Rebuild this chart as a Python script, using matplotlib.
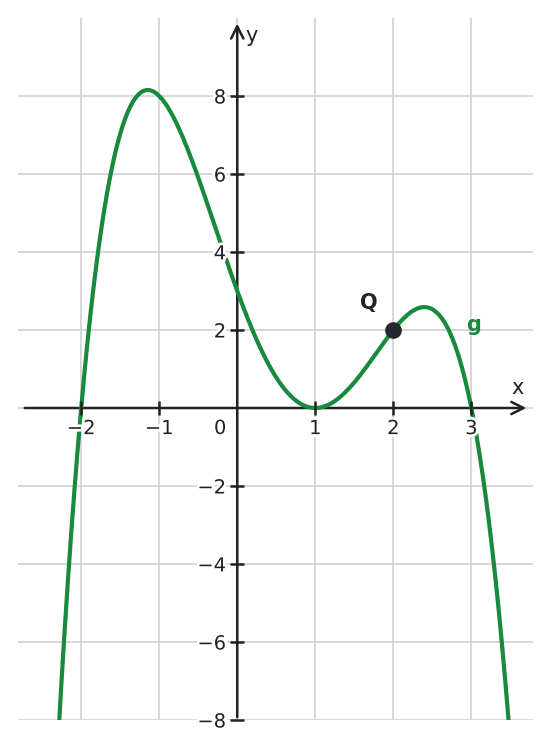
import numpy as np
import matplotlib.pyplot as plt
import matplotlib.patheffects as pe

# curve g: zeros at -2, 1 (double), 3 ; g(0)=3
roots = [-2, 1, 1, 3]
lead = -0.5
Q = (2, 2)
xticks = [-2, -1, 1, 2, 3]
yticks = [-8, -6, -4, -2, 2, 4, 6, 8]

green = '#178a3c'
dark = '#222222'
halo = [pe.withStroke(linewidth=4, foreground='white')]

fig = plt.figure(figsize=(5.51, 7.49), dpi=100)
ax = fig.add_axes([18/551, 29/749, 515/551, 702/749])
ax.set_xlim(-2.81, 3.79)
ax.set_ylim(-8, 10)

# grid
for gx in [-2, -1, 0, 1, 2, 3]:
    ax.axvline(gx, color='#d4d4d4', lw=1.3, zorder=0)
for gy in range(-8, 9, 2):
    ax.axhline(gy, color='#d4d4d4', lw=1.3, zorder=0)

# axes with arrows
ax.annotate('', xy=(3.74, 0), xytext=(-2.76, 0),
            arrowprops=dict(arrowstyle='->', color=dark, lw=1.8, mutation_scale=22), zorder=2)
ax.annotate('', xy=(0, 9.93), xytext=(0, -8),
            arrowprops=dict(arrowstyle='->', color=dark, lw=1.8, mutation_scale=22), zorder=2)

xs = np.linspace(-2.8, 3.8, 800)
ys = lead * np.prod([xs - r for r in roots], axis=0)
ax.plot(xs, ys, color=green, lw=3, zorder=3, solid_capstyle='butt')

for s in ax.spines.values():
    s.set_visible(False)
ax.spines['left'].set_position(('data', 0))
ax.spines['bottom'].set_position(('data', 0))
ax.set_xticks(xticks)
ax.set_yticks(yticks)
ax.tick_params(direction='inout', length=10, width=1.8, color=dark,
               labelsize=14, labelcolor=dark, pad=3)
ax.xaxis.set_zorder(5)
ax.yaxis.set_zorder(5)
for lab in ax.get_xticklabels() + ax.get_yticklabels():
    lab.set_path_effects(halo)
ax.text(-0.22, -0.28, '0', fontsize=14, color=dark, ha='center', va='top', path_effects=halo)

ax.text(3.59, 0.5, 'x', fontsize=15, color=dark, ha='center', va='center')
ax.text(0.18, 9.55, 'y', fontsize=15, color=dark, ha='center', va='center')

ax.plot(*Q, 'o', color='#25272e', ms=11, zorder=6)
ax.text(1.68, 2.68, 'Q', fontsize=15, fontweight='bold', color=dark, ha='center', va='center')
ax.text(3.03, 2.13, 'g', fontsize=15, fontweight='bold', color=green, ha='center', va='center')

fig.savefig('out.png', dpi=100)
